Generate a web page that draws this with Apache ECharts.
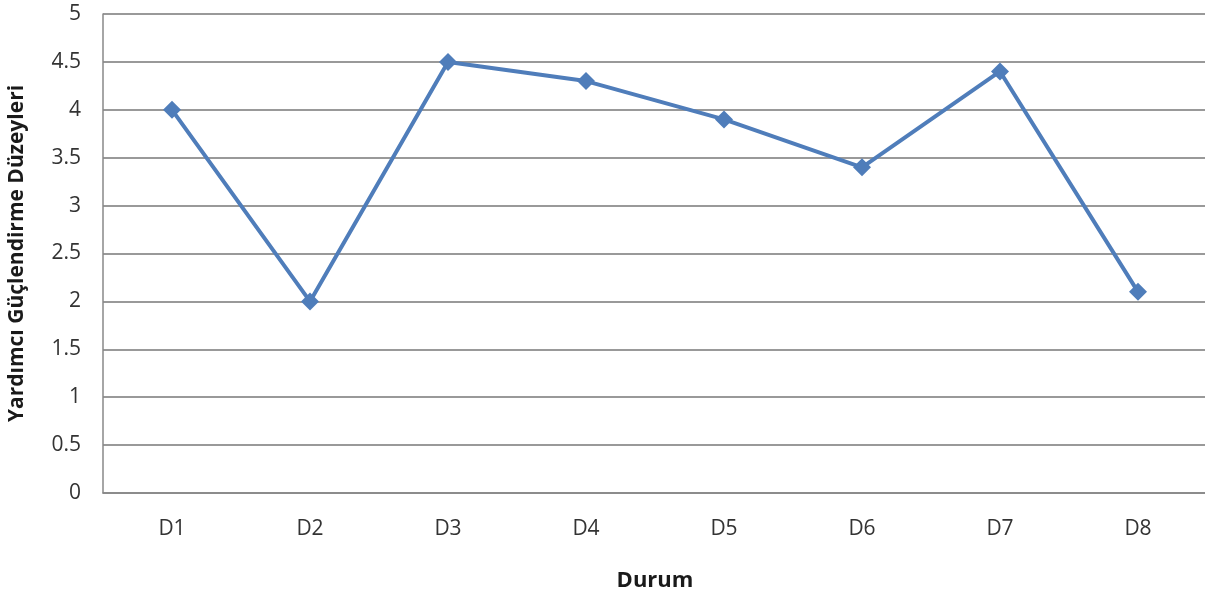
<!DOCTYPE html>
<html>
<head>
<meta charset="utf-8">
<script src="https://cdn.jsdelivr.net/npm/echarts@6/dist/echarts.min.js"></script>
<style>html,body{margin:0;padding:0;background:#fff;}#c{width:1205px;height:599px;}</style>
</head>
<body>
<div id="c"></div>
<script>
const categories = ['D1','D2','D3','D4','D5','D6','D7','D8'];
const values = [4.0, 2.0, 4.5, 4.3, 3.9, 3.4, 4.4, 2.1];
const yTitle = 'Yardımcı Güçlendirme Düzeyleri';
const xTitle = 'Durum';

const chart = echarts.init(document.getElementById('c'));
chart.setOption({
  animation: false,
  grid: { left: 103, right: -2, top: 14, bottom: 106, containLabel: false, outerBoundsMode: 'none' },
  xAxis: {
    type: 'category',
    data: categories,
    boundaryGap: true,
    name: xTitle,
    nameLocation: 'middle',
    nameGap: 77,
    nameTextStyle: { fontFamily: 'Open Sans', fontWeight: 'bold', fontSize: 22, color: '#1a1a1a' },
    axisLine: { lineStyle: { color: '#888', width: 1.5 } },
    axisTick: { show: false },
    axisLabel: { fontFamily: 'Open Sans', fontSize: 21, color: '#333', margin: 26 }
  },
  yAxis: {
    type: 'value',
    min: 0, max: 5, interval: 0.5,
    name: yTitle,
    nameLocation: 'middle',
    nameGap: 75,
    nameRotate: 90,
    nameTextStyle: { fontFamily: 'Open Sans', fontWeight: 'bold', fontSize: 21, color: '#1a1a1a' },
    axisLine: { show: true, lineStyle: { color: '#888', width: 1.5 } },
    axisTick: { show: false },
    axisLabel: { fontFamily: 'Open Sans', fontSize: 21, color: '#333', margin: 22 },
    splitLine: { lineStyle: { color: '#999', width: 1.8 } }
  },
  series: [{
    type: 'line',
    data: values,
    symbol: 'diamond',
    symbolSize: 18,
    lineStyle: { color: '#4F7DBA', width: 4 },
    itemStyle: { color: '#4F7DBA' }
  }]
});
</script>
</body>
</html>
